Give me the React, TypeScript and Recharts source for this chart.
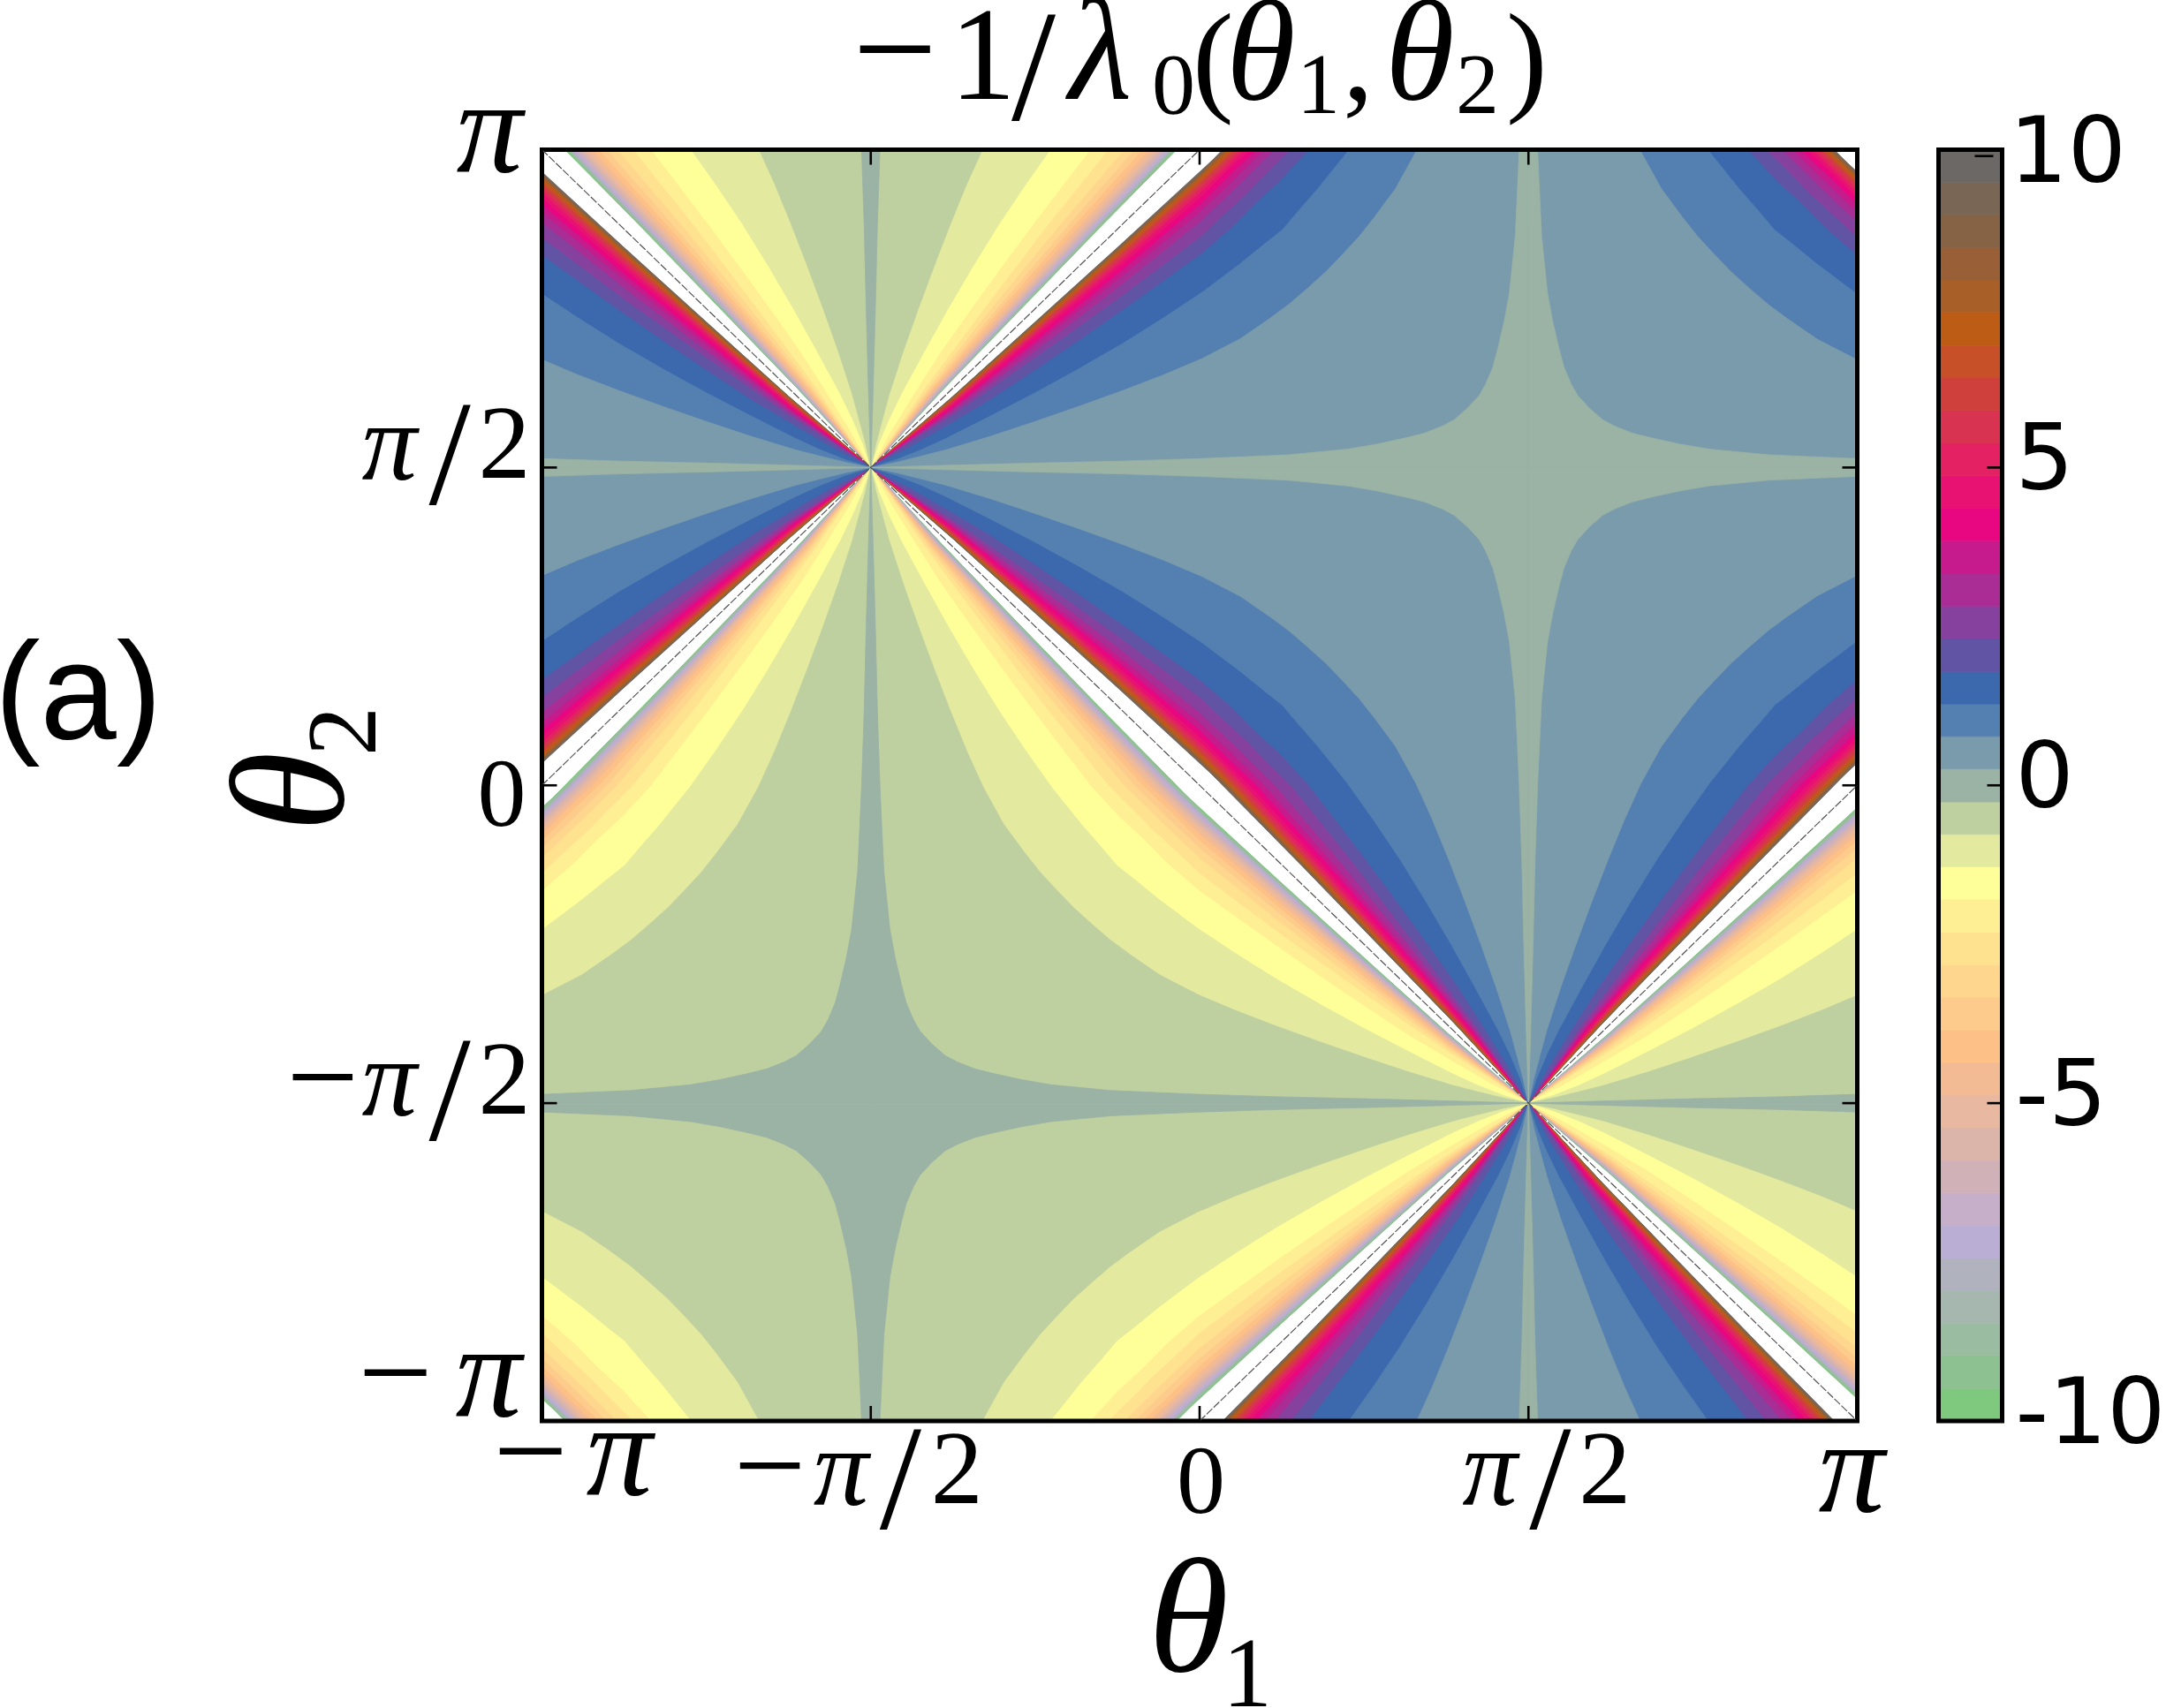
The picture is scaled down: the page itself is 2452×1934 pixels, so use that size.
import React from 'react'
import { BarChart, Bar, ReferenceArea, Scatter, ScatterChart, XAxis, YAxis } from 'recharts'

const WIDTH = 2452
const HEIGHT = 1934
const SERIF = '"Liberation Serif", serif'

// colour bar: band edges and band colours, bottom to top
const bandEdges = [
  -10, -9.49, -8.97, -8.46, -7.95, -7.44, -6.92, -6.41, -5.9, -5.38, -4.87, -4.36, -3.85, -3.33, -2.82, -2.31, -1.79, -1.28,
  -0.77, -0.26, 0.26, 0.77, 1.28, 1.79, 2.31, 2.82, 3.33, 3.85, 4.36, 4.87, 5.38, 5.9, 6.41, 6.92, 7.44, 7.95, 8.46, 8.97,
  9.49, 10,
]
const bandColors = [
  '#7fc97f', '#8ec191', '#9abca0', '#a5b7ae', '#b0b3be', '#bbaed5', '#c6afc8', '#d1b1b8', '#dcb5aa', '#e8b8a0',
  '#f2bb94', '#fdc086', '#fdcb8b', '#fed68d', '#fee290', '#ffef94', '#ffff99', '#e3ea9f', '#bfd0a0', '#9ab3a5',
  '#7a9bac', '#5380b0', '#3c68ae', '#6154a5', '#86419f', '#aa2c95', '#c61b8c', '#e80780', '#e81272', '#e42263',
  '#d83350', '#cf403c', '#c75029', '#bd5c14', '#a95f28', '#995f36', '#866345', '#7a6655', '#6b6866',
]
const colorbarTicks = [-10, -5, 0, 5, 9.9]

const contour10 = [[-0.375, 0.388], [-0.25, 0.271], [-0.125, 0.154], [0, 0.035], [0.018, 0.018]]
const contour949 = [[-0.375, 0.388], [-0.25, 0.272], [-0.125, 0.155], [0, 0.037], [0.018, 0.018]]
const contour897 = [[-0.375, 0.389], [-0.25, 0.273], [-0.125, 0.157], [0, 0.039], [0.019, 0.019]]
const contour846 = [[-0.375, 0.39], [-0.25, 0.274], [-0.125, 0.158], [0, 0.041], [0.02, 0.02]]
const contour795 = [[-0.375, 0.391], [-0.25, 0.276], [-0.125, 0.16], [0, 0.043], [0.022, 0.022]]
const contour744 = [[-0.375, 0.392], [-0.25, 0.278], [-0.125, 0.163], [0, 0.046], [0.023, 0.023]]
const contour692 = [[-0.375, 0.393], [-0.25, 0.28], [-0.125, 0.165], [0, 0.049], [0.025, 0.025]]
const contour641 = [[-0.375, 0.394], [-0.25, 0.282], [-0.125, 0.169], [0, 0.053], [0.027, 0.027]]
const contour590 = [[-0.375, 0.396], [-0.25, 0.285], [-0.125, 0.172], [0, 0.058], [0.029, 0.029]]
const contour538 = [[-0.375, 0.398], [-0.25, 0.288], [-0.125, 0.177], [0, 0.063], [0.032, 0.032]]
const contour487 = [[-0.375, 0.4], [-0.25, 0.291], [-0.125, 0.182], [0, 0.069], [0.035, 0.035]]
const contour436 = [[-0.375, 0.403], [-0.25, 0.296], [-0.125, 0.188], [0, 0.077], [0.038, 0.038]]
const contour385 = [[-0.375, 0.406], [-0.25, 0.302], [-0.125, 0.196], [0, 0.087], [0.043, 0.043]]
const contour333 = [[-0.375, 0.409], [-0.25, 0.308], [-0.125, 0.205], [0, 0.099], [0.05, 0.05]]
const contour282 = [[-0.375, 0.413], [-0.25, 0.317], [-0.125, 0.218], [-0.05, 0.156], [0, 0.115], [0.058, 0.058]]
const contour231 = [[-0.375, 0.418], [-0.25, 0.328], [-0.125, 0.236], [-0.05, 0.178], [0, 0.139], [0.04, 0.1], [0.071, 0.071]]
const contour179 = [
  [-0.44, 0.468], [-0.385, 0.435], [-0.32, 0.395], [-0.251, 0.348], [-0.184, 0.301], [-0.117, 0.253], [-0.06, 0.211], [0.002, 0.165],
  [0.05, 0.122], [0.085, 0.085],
]
const contour128 = [
  [-0.462, 0.488], [-0.423, 0.472], [-0.385, 0.454], [-0.318, 0.419], [-0.251, 0.383], [-0.184, 0.345], [-0.117, 0.305],
  [-0.054, 0.264], [0.003, 0.225], [0.061, 0.18], [0.099, 0.148], [0.126, 0.126],
]
const contour077 = [
  [-0.462, 0.492], [-0.423, 0.482], [-0.385, 0.472], [-0.318, 0.451], [-0.251, 0.428], [-0.184, 0.404], [-0.117, 0.379],
  [-0.054, 0.354], [0.003, 0.329], [0.061, 0.298], [0.106, 0.266], [0.136, 0.243], [0.163, 0.219], [0.192, 0.192],
]
const contour026 = [
  [-0.4, 0.497], [-0.25, 0.493], [-0.12, 0.49], [0.002, 0.486], [0.07, 0.483], [0.136, 0.48], [0.226, 0.471], [0.271, 0.463],
  [0.315, 0.453], [0.342, 0.446], [0.369, 0.435], [0.387, 0.425], [0.407, 0.407],
]
const contours = [
  contour10, contour949, contour897, contour846, contour795, contour744, contour692, contour641, contour590, contour538,
  contour487, contour436, contour385, contour333, contour282, contour231, contour179, contour128, contour077, contour026,
]

// the map repeats by reflection in the lines t = +-pi/2: [scale, offset] of each copy
const mirrors = [[1, 0], [-1, 1], [-1, -1]]
const nodalLines = [
  [{ x: -1, y: 1 }, { x: 1, y: -1 }],
  [{ x: -1, y: 0 }, { x: 0, y: 1 }],
  [{ x: 0, y: -1 }, { x: 1, y: 0 }],
]

const thetaTicks = [-1, -0.5, 0, 0.5, 1]

// glyph, dx, dy, font size, italic
const bottomLabels: Record<string, any[]> = {
  '-1': [['−', -55, 84, 150], ['π', 50, 84, 150, true]],
  '-0.5': [['−', -155, 99, 145], ['π', -65, 95, 125, true], ['/', 10, 121, 170], ['2', 68, 93, 118]],
  '0': [['0', -26, 104, 110]],
  '0.5': [['π', -75, 95, 125, true], ['/', 1, 121, 170], ['2', 57, 93, 118]],
  '1': [['π', -44, 103, 150, true]],
}
const leftLabels: Record<string, any[]> = {
  '-1': [['−', -208, -5, 150], ['π', -98, -5, 150, true]],
  '-0.5': [['−', -289, 19, 145], ['π', -204, 14, 125, true], ['/', -128, 41, 170], ['2', -72, 12, 118]],
  '0': [['0', -73, 46, 110]],
  '0.5': [['π', -204, 14, 125, true], ['/', -128, 41, 170], ['2', -72, 12, 118]],
  '1': [['π', -97, 25, 150, true]],
}

const trianglePoints = (curve: number[][], sign: number, mx: number[], my: number[]) => {
  const back = curve.slice(0, -1).reverse().map(([x, y]) => [y, x])
  const outline = [[-0.5, 0.5], ...curve, ...back, [0.5, -0.5], [0.5, 0.5]]
  return outline.map(([x, y]) => ({ x: mx[0] * sign * x + mx[1], y: my[0] * sign * y + my[1] }))
}

const polygons: { key: string; color: string; points: { x: number; y: number }[] }[] = []
contours.forEach((curve, i) => {
  mirrors.forEach((mx, a) => {
    mirrors.forEach((my, b) => {
      if (!(a === 2 && b === 2)) {
        polygons.push({ key: `p${i}-${a}-${b}`, color: bandColors[38 - i], points: trianglePoints(curve, 1, mx, my) })
      }
      if (!(a === 1 && b === 1)) {
        polygons.push({ key: `n${i}-${a}-${b}`, color: bandColors[i], points: trianglePoints(curve, -1, mx, my) })
      }
    })
  })
})

const colorbarRow: Record<string, number | string> = { name: 'bar', base: -10 }
bandColors.forEach((_, i) => {
  colorbarRow[`band${i}`] = bandEdges[i + 1] - bandEdges[i]
})

const NoMarker = () => null

const Glyphs = ({ x, y, items }: { x: number; y: number; items: any[] }) => (
  <text fontFamily={SERIF} fill="#000">
    {items.map(([g, dx, dy, size, italic], i) => (
      <tspan key={i} x={x + dx} y={y + dy} fontSize={size} fontStyle={italic ? 'italic' : 'normal'}>
        {g}
      </tspan>
    ))}
  </text>
)

const BottomTick = ({ x, y, payload }: any) => (
  <g>
    <line x1={x} x2={x} y1={y} y2={y - 17} stroke="#000" strokeWidth={2.6} />
    <Glyphs x={x} y={y} items={bottomLabels[String(payload.value)]} />
  </g>
)
const LeftTick = ({ x, y, payload }: any) => (
  <g>
    <line x1={x} x2={x + 17} y1={y} y2={y} stroke="#000" strokeWidth={2.6} />
    <Glyphs x={x} y={y} items={leftLabels[String(payload.value)]} />
  </g>
)
const TopTick = ({ x, y }: any) => <line x1={x} x2={x} y1={y} y2={y + 17} stroke="#000" strokeWidth={2.6} />
const RightTick = ({ x, y }: any) => <line x1={x} x2={x - 17} y1={y} y2={y} stroke="#000" strokeWidth={2.6} />

const ColorbarTick = ({ x, y, payload }: any) => {
  const top = payload.value === 9.9
  return (
    <g>
      <line x1={top ? x - 31 : x - 17} x2={top ? x - 10 : x} y1={y} y2={y} stroke="#000" strokeWidth={2.6} />
      <text x={x + (top ? 8 : 15)} y={y + (top ? 29 : 25)} fontFamily="DejaVu Sans" fontSize={104} fill="#000">
        {top ? '10' : String(payload.value)}
      </text>
    </g>
  )
}

const ContourFill = () => (
  <ScatterChart width={WIDTH} height={HEIGHT} margin={{ top: 169.5, left: 613.5, right: 349.5, bottom: 325 }}>
    <XAxis hide type="number" dataKey="x" domain={[-1, 1]} allowDataOverflow />
    <YAxis hide type="number" dataKey="y" domain={[-1, 1]} allowDataOverflow />
    {polygons.map((p) => (
      <Scatter key={p.key} data={p.points} shape={NoMarker} lineType="joint" lineJointType="linearClosed"
        line={{ fill: p.color, stroke: p.color, strokeWidth: 0.8 }} isAnimationActive={false} />
    ))}
  </ScatterChart>
)

// frame, ticks and labels go in a second chart so that they lie on top of the filled bands
const ContourFrame = () => (
  <ScatterChart width={WIDTH} height={HEIGHT} margin={{ top: 168.5, left: 612.5, right: 348.5, bottom: 324 }}>
    <XAxis type="number" dataKey="x" domain={[-1, 1]} ticks={thetaTicks} interval={0} allowDataOverflow height={1}
      axisLine={false} tickLine={false} tickSize={0} tickMargin={0} tick={BottomTick} />
    <XAxis xAxisId="top" orientation="top" type="number" dataKey="x" domain={[-1, 1]} ticks={thetaTicks} interval={0}
      allowDataOverflow height={1} axisLine={false} tickLine={false} tickSize={0} tickMargin={0} tick={TopTick} />
    <YAxis type="number" dataKey="y" domain={[-1, 1]} ticks={thetaTicks} interval={0} allowDataOverflow width={1}
      axisLine={false} tickLine={false} tickSize={0} tickMargin={0} tick={LeftTick} />
    <YAxis yAxisId="right" orientation="right" type="number" dataKey="y" domain={[-1, 1]} ticks={thetaTicks} interval={0}
      allowDataOverflow width={1} axisLine={false} tickLine={false} tickSize={0} tickMargin={0} tick={RightTick} />
    {nodalLines.map((points, i) => (
      <Scatter key={i} data={points} shape={NoMarker} lineType="joint" lineJointType="linear"
        line={{ stroke: '#555555', strokeWidth: 1.2, strokeDasharray: '9 2', fill: 'none' }} isAnimationActive={false} />
    ))}
    <ReferenceArea x1={-1} x2={1} y1={-1} y2={1} fill="none" stroke="#000" strokeWidth={5} />
    <text fontFamily={SERIF} fill="#000" fontSize={140}>
      <tspan x={965} y={112} fontSize={170}>−</tspan>
      <tspan x={1075} y={112} fontSize={150}>1</tspan>
      <tspan x={1145} y={135} fontSize={180}>/</tspan>
      <tspan x={1210} y={112} fontSize={165} fontStyle="italic">λ</tspan>
      <tspan x={1304} y={128} fontSize={98}>0</tspan>
      <tspan x={1350} y={112}>(</tspan>
      <tspan x={1388} y={112} fontSize={160} fontStyle="italic">θ</tspan>
      <tspan x={1468} y={128} fontSize={98}>1</tspan>
      <tspan x={1520} y={112}>,</tspan>
      <tspan x={1568} y={112} fontSize={160} fontStyle="italic">θ</tspan>
      <tspan x={1648} y={128} fontSize={98}>2</tspan>
      <tspan x={1705} y={112}>)</tspan>
    </text>
    <text fontFamily={SERIF} fill="#000">
      <tspan x={1300} y={1892} fontSize={185} fontStyle="italic">θ</tspan>
      <tspan x={1384} y={1932} fontSize={112}>1</tspan>
    </text>
    <text fontFamily={SERIF} fill="#000" transform="translate(388,942) rotate(-90)">
      <tspan x={0} y={0} fontSize={185} fontStyle="italic">θ</tspan>
      <tspan x={86} y={37} fontSize={112}>2</tspan>
    </text>
    <text x={-6} y={836} fontFamily="Liberation Sans" fontSize={155} fill="#000">(a)</text>
  </ScatterChart>
)

const ColorbarFill = () => (
  <BarChart width={WIDTH} height={HEIGHT} data={[colorbarRow]} barCategoryGap={0}
    margin={{ top: 169.5, left: 2194.5, right: 185.5, bottom: 325 }}>
    <XAxis dataKey="name" hide />
    <YAxis hide type="number" domain={[-10, 10]} allowDataOverflow />
    <Bar dataKey="base" stackId="c" fill="none" isAnimationActive={false} />
    {bandColors.map((color, i) => (
      <Bar key={i} dataKey={`band${i}`} stackId="c" fill={color} stroke={color} strokeWidth={0.8} isAnimationActive={false} />
    ))}
  </BarChart>
)

const ColorbarFrame = () => (
  <BarChart width={WIDTH} height={HEIGHT} data={[colorbarRow]} margin={{ top: 169.5, left: 2194.5, right: 184.5, bottom: 325 }}>
    <XAxis dataKey="name" hide />
    <YAxis orientation="right" type="number" domain={[-10, 10]} ticks={colorbarTicks} interval={0} allowDataOverflow width={1}
      axisLine={false} tickLine={false} tickSize={0} tickMargin={0} tick={ColorbarTick} />
    <ReferenceArea y1={-10} y2={10} fill="none" stroke="#000" strokeWidth={5} />
  </BarChart>
)

const layer = { position: 'absolute', left: 0, top: 0 } as const

export default function App() {
  return (
    <div style={{ ...layer, width: WIDTH, height: HEIGHT, background: '#fff', overflow: 'hidden' }}>
      <div style={layer}><ContourFill /></div>
      <div style={layer}><ContourFrame /></div>
      <div style={layer}><ColorbarFill /></div>
      <div style={layer}><ColorbarFrame /></div>
    </div>
  )
}
